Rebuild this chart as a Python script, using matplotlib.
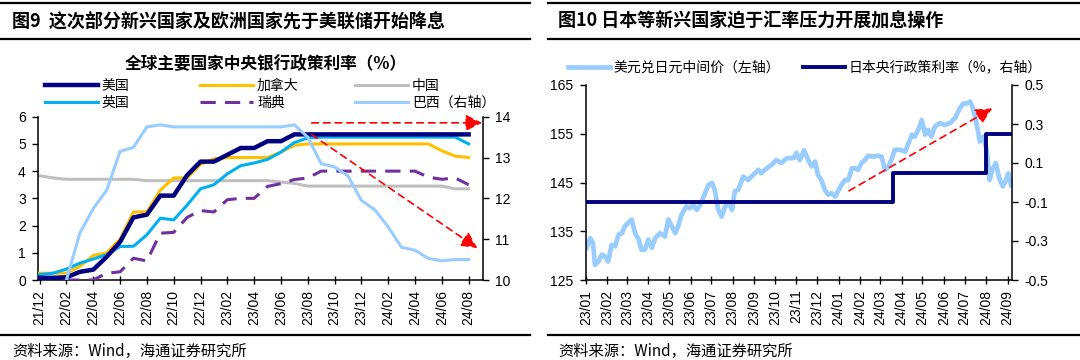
import pandas as pd
import matplotlib
matplotlib.use("Agg")
import matplotlib.pyplot as plt
from matplotlib.lines import Line2D
from matplotlib.ticker import FormatStrFormatter

CJK = ['Noto Sans CJK SC', 'DejaVu Sans']
NUM = ['Liberation Sans', 'DejaVu Sans']
plt.rcParams['font.family'] = NUM

# ---------------- left chart: policy rates (monthly, 21/12 - 24/08) ----------------
months = pd.date_range('2021-12-01', '2024-08-01', freq='MS').strftime('%y/%m').tolist()

us = [0.08, 0.08, 0.1, 0.3, 0.38, 0.85, 1.4, 2.3, 2.4, 3.1, 3.1, 3.85, 4.35, 4.35, 4.6, 4.85, 4.85,
      5.1, 5.1, 5.35, 5.35, 5.35, 5.35, 5.35, 5.35, 5.35, 5.35, 5.35, 5.35, 5.35, 5.35, 5.35, 5.35]
canada = [0.25, 0.25, 0.25, 0.5, 0.9, 1.0, 1.5, 2.5, 2.5, 3.3, 3.75, 3.75, 4.25, 4.45, 4.5, 4.5, 4.5,
          4.5, 4.7, 4.95, 5.0, 5.0, 5.0, 5.0, 5.0, 5.0, 5.0, 5.0, 5.0, 5.0, 4.75, 4.55, 4.5]
china = [3.83, 3.75, 3.7, 3.7, 3.7, 3.7, 3.7, 3.7, 3.65, 3.65, 3.65, 3.65, 3.65, 3.65, 3.65, 3.65, 3.65,
         3.65, 3.6, 3.55, 3.45, 3.45, 3.45, 3.45, 3.45, 3.45, 3.45, 3.45, 3.45, 3.45, 3.45, 3.35, 3.35]
uk = [0.2, 0.25, 0.4, 0.62, 0.77, 0.93, 1.23, 1.24, 1.66, 2.27, 2.21, 2.75, 3.35, 3.5, 3.9, 4.2, 4.3,
      4.43, 4.7, 5.05, 5.22, 5.25, 5.25, 5.25, 5.25, 5.25, 5.25, 5.25, 5.25, 5.25, 5.25, 5.25, 5.0]
sweden = [0.0, 0.0, 0.0, 0.0, 0.0, 0.25, 0.3, 0.8, 0.7, 1.72, 1.75, 2.3, 2.55, 2.5, 2.95, 3.0, 3.0,
          3.44, 3.54, 3.69, 3.75, 4.0, 4.0, 4.0, 4.0, 4.0, 4.0, 4.0, 4.0, 3.78, 3.7, 3.75, 3.5]
brazil = [9.25, 9.25, 10.0, 11.15, 11.75, 12.2, 13.15, 13.25, 13.75, 13.8, 13.75, 13.75, 13.75, 13.75,
          13.75, 13.75, 13.75, 13.75, 13.75, 13.8, 13.5, 12.85, 12.77, 12.55, 11.95, 11.72, 11.3, 10.8,
          10.73, 10.53, 10.47, 10.5, 10.5]

# ---------------- right chart: USD/JPY central parity and BOJ rate ----------------
fx_dates = ['2023-01-02', '2023-01-07', '2023-01-11', '2023-01-14', '2023-01-19', '2023-01-24',
            '2023-01-29', '2023-02-02', '2023-02-07', '2023-02-12', '2023-02-17', '2023-02-22',
            '2023-02-26', '2023-03-03', '2023-03-08', '2023-03-13', '2023-03-18', '2023-03-22',
            '2023-03-27', '2023-04-01', '2023-04-06', '2023-04-11', '2023-04-18', '2023-04-25',
            '2023-04-30', '2023-05-05', '2023-05-10', '2023-05-14', '2023-05-19', '2023-05-26',
            '2023-05-31', '2023-06-05', '2023-06-10', '2023-06-15', '2023-06-22', '2023-06-27',
            '2023-07-02', '2023-07-06', '2023-07-11', '2023-07-16', '2023-07-21', '2023-07-26',
            '2023-07-31', '2023-08-04', '2023-08-09', '2023-08-16', '2023-08-23', '2023-08-31',
            '2023-09-07', '2023-09-11', '2023-09-19', '2023-09-26', '2023-10-03', '2023-10-10',
            '2023-10-18', '2023-10-28', '2023-11-01', '2023-11-06', '2023-11-12', '2023-11-18',
            '2023-11-23', '2023-11-28', '2023-12-02', '2023-12-07', '2023-12-12', '2023-12-17',
            '2023-12-22', '2023-12-27', '2023-12-31', '2024-01-05', '2024-01-10', '2024-01-15',
            '2024-01-20', '2024-01-25', '2024-01-29', '2024-02-03', '2024-02-08', '2024-02-13',
            '2024-02-20', '2024-02-27', '2024-03-03', '2024-03-08', '2024-03-13', '2024-03-18',
            '2024-03-22', '2024-03-30', '2024-04-06', '2024-04-11', '2024-04-16', '2024-04-20',
            '2024-04-25', '2024-04-30', '2024-05-05', '2024-05-09', '2024-05-14', '2024-05-19',
            '2024-05-26', '2024-06-02', '2024-06-10', '2024-06-17', '2024-06-24', '2024-06-29',
            '2024-07-04', '2024-07-09', '2024-07-13', '2024-07-16', '2024-07-19', '2024-07-23',
            '2024-07-28', '2024-08-02', '2024-08-06', '2024-08-10', '2024-08-15', '2024-08-20',
            '2024-08-25', '2024-08-30', '2024-09-02', '2024-09-06']
usdjpy = [131.6, 133.6, 132.6, 128.1, 128.8, 130.2, 129.8, 128.8, 132.2, 131.9, 134.3, 134.6,
          136.0, 136.7, 137.4, 134.6, 133.3, 131.2, 131.2, 133.3, 131.6, 133.6, 134.6, 133.9,
          137.4, 136.0, 134.6, 136.0, 138.4, 140.1, 139.7, 140.4, 139.4, 140.4, 142.8, 144.5,
          144.9, 143.5, 139.4, 138.0, 140.1, 140.8, 139.4, 143.2, 143.5, 146.2, 145.5, 146.6,
          147.6, 146.9, 147.9, 148.6, 149.6, 149.0, 150.0, 150.0, 151.1, 149.6, 151.6, 149.6,
          148.3, 149.3, 146.6, 145.5, 143.5, 142.5, 142.8, 142.1, 143.2, 144.5, 145.5, 145.5,
          147.9, 147.9, 147.6, 149.0, 149.6, 150.5, 150.3, 150.5, 150.3, 147.6, 148.3, 150.0,
          151.7, 151.7, 151.3, 153.1, 154.8, 154.4, 155.8, 157.8, 154.8, 155.8, 154.4, 156.5,
          157.2, 156.8, 157.2, 158.2, 160.2, 161.2, 161.2, 161.6, 160.2, 158.5, 156.5, 153.4,
          154.4, 151.7, 145.5, 147.6, 149.0, 145.9, 144.2, 145.5, 146.9, 144.5]
jp_dates = ['2023-01-01', '2024-03-19', '2024-08-01', '2024-09-07']
jp_rate = [-0.1, 0.05, 0.25, 0.25]
fx_months = pd.date_range('2023-01-01', '2024-09-01', freq='MS')

W, H = 1080, 360
fig = plt.figure(figsize=(W / 100, H / 100), dpi=100)


def px(x0, y0, x1, y1):
    return [x0 / W, 1 - y1 / H, (x1 - x0) / W, (y1 - y0) / H]


def hline(x0, x1, y, lw=1.6):
    fig.add_artist(Line2D([x0 / W, x1 / W], [1 - y / H] * 2, transform=fig.transFigure,
                          color='black', lw=lw))


def col_legend(handles, labels, x, y, hl):
    leg = fig.legend(handles, labels, loc='center left', bbox_to_anchor=(x / W, 1 - y / H),
                     frameon=False, prop={'family': CJK, 'size': 10}, handlelength=hl,
                     handletextpad=0.3, labelspacing=0.22, borderpad=0, borderaxespad=0)
    return leg


def style_axes(ax, axr):
    for a in (ax, axr):
        a.spines['top'].set_visible(False)
        for s in ('left', 'right', 'bottom'):
            a.spines[s].set_linewidth(1.1)
    ax.spines['right'].set_visible(False)
    axr.spines['left'].set_visible(False)
    axr.spines['bottom'].set_visible(False)
    ax.tick_params(axis='y', direction='out', length=4, width=1, labelsize=10, pad=5)
    axr.tick_params(axis='y', direction='out', length=4, width=1, labelsize=10, pad=5)
    ax.tick_params(axis='x', direction='inout', length=6, width=1, labelsize=10, pad=4,
                   labelrotation=90)


# ---- frames, titles, sources
hline(0, 530, 3)
hline(0, 530, 38.5)
hline(0, 530, 335)
hline(548, 1080, 3)
hline(548, 1080, 38.5)
hline(548, 1080, 335)
fig.text(12 / W, 1 - 21 / H, '图9  这次部分新兴国家及欧洲国家先于美联储开始降息', family=CJK,
         fontsize=13, fontweight='bold', va='center', ha='left')
fig.text(558 / W, 1 - 21 / H, '图10 日本等新兴国家迫于汇率压力开展加息操作', family=CJK,
         fontsize=13, fontweight='bold', va='center', ha='left')
fig.text(12 / W, 1 - 351 / H, '资料来源：Wind，海通证券研究所', family=CJK, fontsize=11,
         va='center', ha='left')
fig.text(558 / W, 1 - 351 / H, '资料来源：Wind，海通证券研究所', family=CJK, fontsize=11,
         va='center', ha='left')
fig.text(266 / W, 1 - 64 / H, '全球主要国家中央银行政策利率（%）', family=CJK, fontsize=12,
         fontweight='bold', va='center', ha='center')

# ---- left chart
ax1 = fig.add_axes(px(38.3, 116.7, 482.7, 280))
x = list(range(len(months)))
l_us, = ax1.plot(x, us, color='#000080', lw=3.2, zorder=5)
l_ca, = ax1.plot(x, canada, color='#FFC000', lw=2.2, zorder=4)
l_cn, = ax1.plot(x, china, color='#BFBFBF', lw=2.2, zorder=2)
l_uk, = ax1.plot(x, uk, color='#00B0F0', lw=2.2, zorder=4)
l_se, = ax1.plot(x, sweden, color='#7030A0', lw=2.2, dashes=(5, 3), zorder=3)
ax1.set_ylim(0, 6)
ax1.set_yticks(range(0, 7))
ax1.set_xlim(-0.1, 33.05)
ax1.set_xticks(x[::2])
ax1.set_xticklabels(months[::2])
ax1r = ax1.twinx()
l_br, = ax1r.plot(x, brazil, color='#99CCFF', lw=2.2)
ax1r.set_ylim(10, 14)
ax1r.set_yticks(range(10, 15))
style_axes(ax1, ax1r)
ax1r.annotate('', xy=(33.0, 13.85), xytext=(20.3, 13.85),
              arrowprops=dict(arrowstyle='-|>,head_length=1.0,head_width=0.5', color='#FF0000',
                              lw=1.2, linestyle=(0, (4, 3)), shrinkA=0, shrinkB=0))
ax1r.annotate('', xy=(32.65, 10.78), xytext=(20.3, 13.56),
              arrowprops=dict(arrowstyle='-|>,head_length=1.0,head_width=0.5', color='#FF0000',
                              lw=1.2, linestyle=(0, (4, 3)), shrinkA=0, shrinkB=0))

col_legend([l_us, l_uk], ['美国', '英国'], 45, 94.5, 3.8)
col_legend([l_ca, l_se], ['加拿大', '瑞典'], 200, 94.5, 3.8)
col_legend([l_cn, l_br], ['中国', '巴西（右轴）'], 355, 94.5, 3.8)

# ---- right chart
ax2 = fig.add_axes(px(586, 85, 1011.7, 280))
fx_x = pd.to_datetime(fx_dates)
l_fx, = ax2.plot(fx_x, usdjpy, color='#99CCFF', lw=3.4)
ax2.set_ylim(125, 165)
ax2.set_yticks(range(125, 166, 10))
ax2.set_xlim(pd.Timestamp('2023-01-01'), pd.Timestamp('2024-09-07'))
ax2.set_xticks(fx_months)
ax2.set_xticklabels(fx_months.strftime('%y/%m'))
ax2r = ax2.twinx()
l_jp, = ax2r.plot(pd.to_datetime(jp_dates), jp_rate, color='#000080', lw=2.8,
                  drawstyle='steps-post')
ax2r.set_ylim(-0.5, 0.5)
ax2r.set_yticks([-0.5, -0.3, -0.1, 0.1, 0.3, 0.5])
ax2r.yaxis.set_major_formatter(FormatStrFormatter('%.1f'))
style_axes(ax2, ax2r)
ax2.annotate('', xy=(pd.Timestamp('2024-08-10'), 160.2), xytext=(pd.Timestamp('2024-01-16'), 143.3),
             arrowprops=dict(arrowstyle='-|>,head_length=1.0,head_width=0.5', color='#FF0000',
                             lw=1.2, linestyle=(0, (4, 3)), shrinkA=0, shrinkB=0), zorder=6)

col_legend([l_fx], ['美元兑日元中间价（左轴）'], 568, 67.5, 3.0)
col_legend([l_jp], ['日本央行政策利率（%，右轴）'], 803, 67.5, 3.0)

fig.savefig('out.png', dpi=100, facecolor='white')
